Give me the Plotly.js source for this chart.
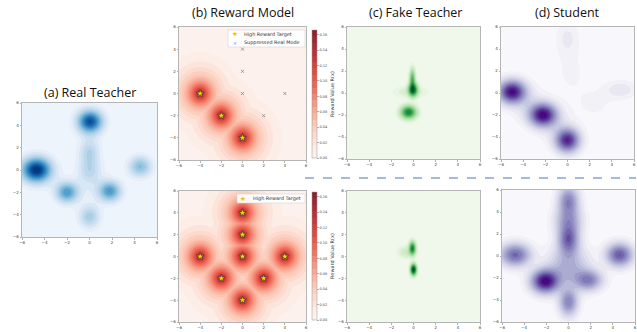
<!DOCTYPE html>
<html><head><meta charset="utf-8">
<script src="https://cdn.plot.ly/plotly-3.0.1.min.js"></script>
<style>html,body{margin:0;padding:0;background:#fff}#plot{width:637px;height:332px}</style>
</head><body><div id="plot"></div>
<script>
// ---- Data: mixture modes [x, y, weight, sigmaX, sigmaY] ----
const realTeacherModes = [
  [-4.7, 0.0, 1.00, 0.95, 0.80],
  [0.05, 4.35, 0.85, 0.80, 0.72],
  [-2.0, -2.0, 0.62, 0.72, 0.66],
  [1.8, -1.9, 0.62, 0.72, 0.66],
  [4.5, 0.3, 0.45, 0.72, 0.66],
  [0.0, -4.2, 0.35, 0.66, 0.72],
  [0.0, 1.6, 0.22, 0.60, 0.70],
  [0.0, 0.0, 0.22, 0.70, 0.80],
  [0.0, -1.0, 0.08, 0.90, 1.50],
  [0.0, 2.6, 0.08, 0.80, 1.50]
];
const rewardTopTargetsX = [-4, -2, 0];
const rewardTopTargetsY = [0, -2, -4];
const suppressedModesX = [0, 0, 0, 4, 2];
const suppressedModesY = [4, 2, 0, 0, -2];
const rewardBottomTargetsX = [0, 0, 0, -4, 4, -2, 2, 0];
const rewardBottomTargetsY = [4, 2, 0, 0, 0, -2, -2, -4];
const rewardPeak = 0.166;
const rewardDecay = 1.25;
const colorbarTicks = [0, 0.02, 0.04, 0.06, 0.08, 0.10, 0.12, 0.14, 0.16];

const fakeTeacherTopModes = [
  [-0.05, 0.3, 1.00, 0.24, 0.36],
  [-0.10, 1.2, 0.50, 0.15, 0.55],
  [-0.30, 0.1, 0.06, 0.80, 0.28],
  [-0.45, -1.75, 0.80, 0.40, 0.34]
];
const fakeTeacherBottomModes = [
  [-0.10, 0.75, 0.70, 0.17, 0.35],
  [-0.60, 0.40, 0.08, 0.45, 0.30],
  [0.00, -1.20, 1.00, 0.16, 0.30]
];
const studentTopModes = [
  [-5.0, 0.1, 1.00, 0.85, 0.72],
  [-2.2, -2.0, 1.00, 0.85, 0.72],
  [0.0, -4.3, 0.90, 0.75, 0.75],
  [0.0, 5.0, 0.09, 0.65, 1.00],
  [4.8, 0.3, 0.12, 0.95, 0.55],
  [-3.5, -1.0, 0.09, 1.10, 1.10],
  [-1.0, -3.0, 0.07, 1.10, 1.10],
  [0.3, 2.0, 0.04, 1.20, 1.70],
  [2.5, -1.0, 0.04, 1.30, 1.10]
];
const studentBottomModes = [
  [-4.8, 0.1, 0.55, 0.90, 0.68],
  [-2.1, -2.3, 0.85, 0.82, 0.70],
  [1.8, -2.2, 0.45, 0.82, 0.62],
  [4.6, 0.1, 0.60, 0.78, 0.68],
  [0.0, 1.5, 0.55, 0.62, 0.92],
  [0.0, 5.0, 0.45, 0.62, 0.92],
  [0.0, -4.2, 0.45, 0.56, 0.82],
  [0.0, -1.0, 0.30, 1.20, 1.20],
  [0.0, 3.2, 0.30, 0.82, 0.82]
];
// contrast exponent applied to each panel's density before contouring
const panelGamma = { real: 1.0, fake: 0.55, studentTop: 0.8, studentBottom: 0.72 };
const tickValues = [-6, -4, -2, 0, 2, 4, 6];
const panelTitles = ['(a) Real Teacher', '(b) Reward Model', '(c) Fake Teacher', '(d) Student'];
const legendLabels = ['High Reward Target', 'Suppressed Real Mode'];

// ---- grid ----
const GX = [];
for (let i = 0; i <= 120; i++) GX.push(-6 + i * 0.1);

function mixture(modes, g) {
  return GX.map(y => GX.map(x => {
    let s = 0;
    for (const m of modes) {
      const dx = (x - m[0]) / m[3], dy = (y - m[1]) / m[4];
      s += m[2] * Math.exp(-0.5 * (dx * dx + dy * dy));
    }
    return Math.pow(s, g);
  }));
}
function reward(tx, ty) {
  return GX.map(y => GX.map(x => {
    let best = 0;
    for (let k = 0; k < tx.length; k++) {
      const d = Math.sqrt((x - tx[k]) ** 2 + (y - ty[k]) ** 2);
      best = Math.max(best, rewardPeak * Math.exp(-d / rewardDecay));
    }
    return best;
  }));
}
function zmaxOf(z) { let m = 0; z.forEach(r => r.forEach(v => { if (v > m) m = v; })); return m; }

const Blues = [[0,'#eef4fb'],[0.08,'#dbe9f6'],[0.2,'#c6dbef'],[0.35,'#9ecae1'],[0.5,'#6baed6'],[0.625,'#4292c6'],[0.75,'#2171b5'],[0.875,'#08519c'],[1,'#08306b']];
const Reds = [[0,'#fdf1ed'],[0.1,'#fde0d6'],[0.25,'#fbc3b0'],[0.375,'#f79e88'],[0.5,'#f17563'],[0.625,'#e45246'],[0.75,'#c93a3b'],[0.875,'#a92a37'],[1,'#86202f']];
const Greens = [[0,'#eff8eb'],[0.08,'#dcf0d6'],[0.2,'#c7e9c0'],[0.35,'#a1d99b'],[0.5,'#74c476'],[0.625,'#41ab5d'],[0.75,'#238b45'],[0.875,'#006d2c'],[1,'#00441b']];
const Purples = [[0,'#f8f7fb'],[0.08,'#ebe9f3'],[0.2,'#dadaeb'],[0.35,'#bcbddc'],[0.5,'#9e9ac8'],[0.625,'#807dba'],[0.75,'#6a51a3'],[0.875,'#54278f'],[1,'#3f007d']];

function contourTrace(z, n, cs, nlev) {
  const zm = zmaxOf(z);
  return {
    type: 'contour', x: GX, y: GX, z: z,
    xaxis: 'x' + (n === 1 ? '' : n), yaxis: 'y' + (n === 1 ? '' : n),
    colorscale: cs, zmin: 0, zmax: zm,
    contours: { coloring: 'fill', showlines: false, start: zm / nlev, end: zm, size: zm / nlev },
    line: { width: 0 }, showscale: false, hoverinfo: 'skip', showlegend: false
  };
}
function cbar(yc) {
  return {
    x: 312 / 637, xanchor: 'left', xpad: 0, y: yc, yanchor: 'middle', ypad: 0,
    thickness: 5, thicknessmode: 'pixels', len: 128, lenmode: 'pixels',
    outlinecolor: '#999', outlinewidth: 0.5,
    tickvals: colorbarTicks, tickformat: '.2f', ticks: 'outside', ticklen: 2, tickwidth: 0.5, tickcolor: '#666',
    tickfont: { size: 3.5, color: '#444', family: 'DejaVu Sans' },
    title: { text: 'Reward Value R(x)', side: 'right', font: { size: 5, color: '#333', family: 'DejaVu Sans' } }
  };
}

const rTop = reward(rewardTopTargetsX, rewardTopTargetsY);
const rBot = reward(rewardBottomTargetsX, rewardBottomTargetsY);
function rewardTrace(z, n, yc) {
  const t = contourTrace(z, n, Reds, 20);
  t.zmin = 0; t.zmax = rewardPeak;
  t.contours = { coloring: 'fill', showlines: false, start: rewardPeak / 20, end: rewardPeak, size: rewardPeak / 20 };
  t.showscale = true; t.colorbar = cbar(yc);
  return t;
}
const starMarker = { symbol: 'star', size: 6, color: '#f2d500', line: { color: '#333', width: 0.6 } };
const traces = [
  contourTrace(mixture(realTeacherModes, panelGamma.real), 1, Blues, 16),
  rewardTrace(rTop, 2, 1 - 94 / 332),
  rewardTrace(rBot, 3, 1 - 256 / 332),
  contourTrace(mixture(fakeTeacherTopModes, panelGamma.fake), 4, Greens, 16),
  contourTrace(mixture(fakeTeacherBottomModes, panelGamma.fake), 5, Greens, 16),
  contourTrace(mixture(studentTopModes, panelGamma.studentTop), 6, Purples, 16),
  contourTrace(mixture(studentBottomModes, panelGamma.studentBottom), 7, Purples, 16),
  { type: 'scatter', mode: 'markers', x: rewardTopTargetsX, y: rewardTopTargetsY, xaxis: 'x2', yaxis: 'y2',
    showlegend: false, hoverinfo: 'skip', marker: starMarker },
  { type: 'scatter', mode: 'markers', x: suppressedModesX, y: suppressedModesY, xaxis: 'x2', yaxis: 'y2',
    showlegend: false, hoverinfo: 'skip',
    marker: { symbol: 'x-thin', size: 3, color: '#888', line: { color: '#888', width: 0.8 } } },
  { type: 'scatter', mode: 'markers', x: rewardBottomTargetsX, y: rewardBottomTargetsY, xaxis: 'x3', yaxis: 'y3',
    showlegend: false, hoverinfo: 'skip', marker: starMarker }
];

const px = v => v / 637, py = v => 1 - v / 332;
const boxes = [
  [22, 157, 103, 237],
  [179, 306, 27, 160],
  [179, 306, 191, 322],
  [347, 480, 27, 159],
  [347, 480, 191, 322],
  [501, 634, 27, 159],
  [502, 635, 190, 322]
];
function ann(text, x, y, size, color, family, xanchor) {
  return { text: text, x: px(x), y: py(y), xref: 'paper', yref: 'paper', showarrow: false,
    xanchor: xanchor || 'center', yanchor: 'middle', font: { size: size, color: color, family: family } };
}
const legendFont = 'DejaVu Sans';
const layout = {
  width: 637, height: 332, margin: { l: 0, r: 0, t: 0, b: 0 },
  paper_bgcolor: '#fff', plot_bgcolor: '#fff',
  font: { family: 'DejaVu Sans', size: 4, color: '#444' },
  showlegend: false,
  shapes: [
    { type: 'line', xref: 'paper', yref: 'paper', x0: px(305), x1: px(636), y0: py(178), y1: py(178),
      line: { color: '#4a72c6', width: 1, dash: 'dash' } },
    { type: 'rect', xref: 'paper', yref: 'paper', x0: px(228), x1: px(305), y0: py(30), y1: py(47),
      fillcolor: 'rgba(255,255,255,0.92)', line: { color: '#cccccc', width: 0.5 } },
    { type: 'rect', xref: 'paper', yref: 'paper', x0: px(237), x1: px(305), y0: py(194), y1: py(203),
      fillcolor: 'rgba(255,255,255,0.92)', line: { color: '#cccccc', width: 0.5 } }
  ],
  annotations: [
    ann(panelTitles[0], 90, 93, 12.5, '#111', 'Open Sans'),
    ann(panelTitles[1], 243, 12, 12.5, '#111', 'Open Sans'),
    ann(panelTitles[2], 415, 12, 12.5, '#111', 'Open Sans'),
    ann(panelTitles[3], 567, 12, 12.5, '#111', 'Open Sans'),
    ann('★', 235, 34.5, 6.5, '#e8c400', legendFont),
    ann(legendLabels[0], 242, 34.5, 4.9, '#333', legendFont, 'left'),
    ann('×', 235, 42.5, 5, '#888', legendFont),
    ann(legendLabels[1], 242, 42.5, 4.9, '#333', legendFont, 'left'),
    ann('★', 243, 198.5, 6.5, '#e8c400', legendFont),
    ann(legendLabels[0], 251, 198.5, 4.9, '#333', legendFont, 'left')
  ]
};
boxes.forEach((b, i) => {
  const n = i + 1, s = n === 1 ? '' : n;
  const common = { range: [-6, 6], tickvals: tickValues, showgrid: false, zeroline: false,
    showline: true, linecolor: '#b5b5b5', linewidth: 1, mirror: true,
    ticks: 'outside', ticklen: 1.5, tickwidth: 0.5, tickcolor: '#666',
    tickfont: { size: 4, color: '#444' } };
  layout['xaxis' + s] = Object.assign({}, common, { domain: [px(b[0]), px(b[1])], anchor: 'y' + s });
  layout['yaxis' + s] = Object.assign({}, common, { domain: [py(b[3]), py(b[2])], anchor: 'x' + s });
});
Plotly.newPlot('plot', traces, layout, { staticPlot: true, displayModeBar: false });
</script></body></html>
